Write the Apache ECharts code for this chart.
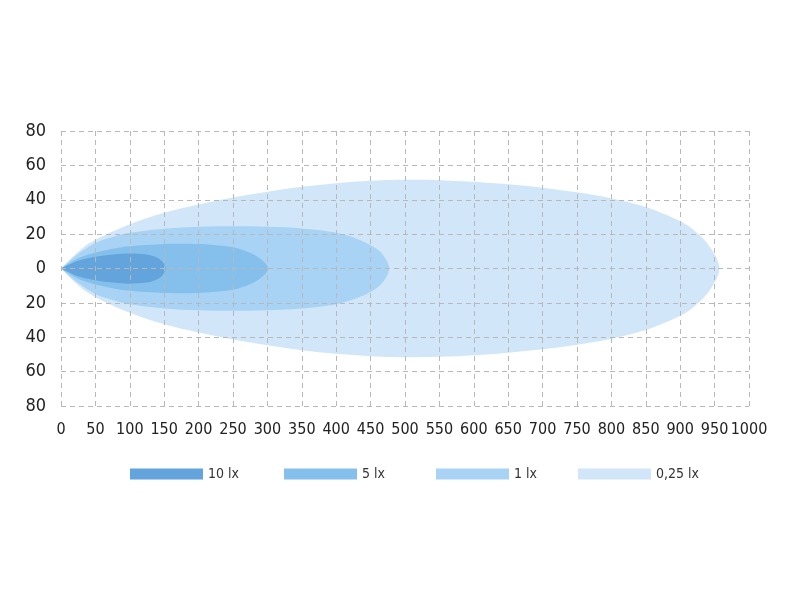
<!DOCTYPE html>
<html>
<head>
<meta charset="utf-8">
<script src="https://cdn.jsdelivr.net/npm/echarts@6/dist/echarts.min.js"></script>
<style>
html,body{margin:0;padding:0;background:#fff}
#main{width:800px;height:600px}
</style>
</head>
<body>
<div id="main"></div>
<script>
// beam outlines: [distance, half width]
var lx10 = [[0,0],[25,4.5],[50,6.8],[75,8.2],[100,8.8],[125,8.2],[140,6.3],[148,3.6],[152,0]]
var lx5 = [[0,0],[25,6],[50,9.3],[75,11.5],[100,13],[150,14.3],[200,14.2],[225,13.5],[250,12.4],[275,9.2],[292,5],[301,0]]
var lx1 = [[0,0],[25,8.5],[50,14.8],[75,18.3],[100,20.8],[150,23.2],[200,24.3],[250,24.6],[300,24.3],[350,23.3],[400,20.8],[435,16.5],[460,11],[472,5.5],[477,0]]
var lx025 = [[0,0],[25,9.8],[50,16.7],[100,25.8],[150,32.5],[200,37.3],[250,41.3],[300,44.6],[350,47.5],[400,49.6],[450,51],[500,51.6],[550,51.4],[600,50.5],[650,49],[700,47],[750,44.3],[800,40.8],[850,35.8],[900,27.5],[925,20.5],[945,11.5],[957,0]]

var names = ['10 lx','5 lx','1 lx','0,25 lx']
var colors = ['#62a4db','#85c0ec','#a9d3f4','#d1e6f8']
var yLabels = ['80','60','40','20','0','20','40','60','80']

var font = "'DejaVu Sans Condensed','Liberation Sans Narrow','Roboto',sans-serif"
var chart = echarts.init(document.getElementById('main'))

// smooth closed outline through the points, pointed at the lamp
function outlinePath(pts){
	var n = pts.length
	function p(i){ return pts[Math.max(0, Math.min(n-1, i))] }
	var d = 'M' + pts[0][0] + ' ' + pts[0][1]
	for(var i=0;i<n-1;i++){
		var a = p(i-1), b = p(i), c = p(i+1), e = p(i+2)
		var c1x = b[0] + (c[0]-a[0])/6, c1y = b[1] + (c[1]-a[1])/6
		var c2x = c[0] - (e[0]-b[0])/6, c2y = c[1] - (e[1]-b[1])/6
		d += 'C' + c1x + ' ' + c1y + ' ' + c2x + ' ' + c2y + ' ' + c[0] + ' ' + c[1]
	}
	return d + 'Z'
}

function beam(name, color, profile){
	return {
		type:'custom',
		name:name,
		z:2,
		itemStyle:{color:color},
		data:profile,
		renderItem:function(params, api){
			if(params.dataIndex !== 0) return
			var pts = []
			for(var i=0;i<profile.length;i++){
				pts.push(api.coord([profile[i][0], profile[i][1]]))
			}
			for(var j=profile.length-2;j>=0;j--){
				pts.push(api.coord([profile[j][0], -profile[j][1]]))
			}
			return {
				type:'path',
				shape:{pathData:outlinePath(pts)},
				style:{fill:color}
			}
		}
	}
}

function legendAt(name, left){
	return {
		data:[name],
		left:left,
		top:467,
		padding:0,
		icon:'rect',
		itemWidth:73,
		itemHeight:11,
		itemGap:0,
		selectedMode:false,
		textStyle:{fontFamily:font, fontSize:14, color:'#333'}
	}
}

var gridLine = {show:true, lineStyle:{color:'#b8b8b8', type:[5,4], width:1}}

var option = {
	animation:false,
	backgroundColor:'#fff',
	grid:{left:61, right:51, top:131, bottom:194},
	xAxis:{
		type:'value', min:0, max:1000, interval:50, z:5,
		axisLine:{show:false}, axisTick:{show:false},
		axisLabel:{
			fontFamily:font, fontSize:16, color:'#222', margin:16, hideOverlap:false, showMaxLabel:true,
			formatter:function(v){ return String(v) }
		},
		splitLine:gridLine
	},
	yAxis:{
		type:'value', min:-80, max:80, interval:20, z:5,
		axisLine:{show:false}, axisTick:{show:false},
		axisLabel:{
			fontFamily:font, fontSize:18, color:'#222', margin:15,
			formatter:function(v){ return yLabels[Math.round((v+80)/20)] }
		},
		splitLine:gridLine
	},
	legend:[legendAt(names[0],130), legendAt(names[1],284), legendAt(names[2],436), legendAt(names[3],578)],
	series:[
		beam(names[3], colors[3], lx025),
		beam(names[2], colors[2], lx1),
		beam(names[1], colors[1], lx5),
		beam(names[0], colors[0], lx10)
	]
}
chart.setOption(option)
</script>
</body>
</html>
